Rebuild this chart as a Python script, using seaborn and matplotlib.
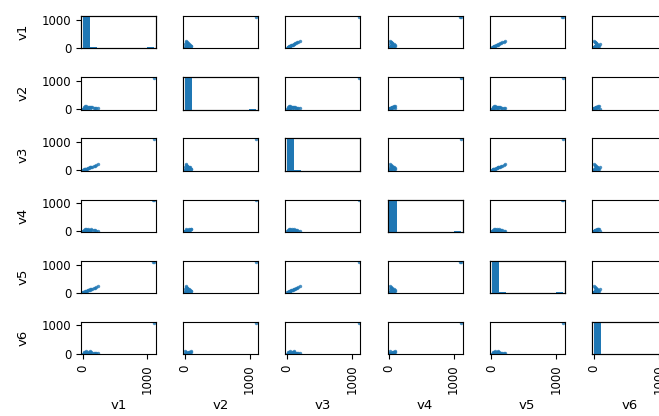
import numpy as np
import pandas as pd
import matplotlib
matplotlib.use("Agg")
import matplotlib.pyplot as plt
import seaborn as sns

variables = ["v1", "v2", "v3", "v4", "v5", "v6"]

v1 = [3, 10, 20, 35, 50, 65, 80, 95, 110, 130, 150, 170, 190, 210, 240, 40, 60, 25, 90, 120, 1110, 1100]
v2 = [2, 5, 12, 20, 30, 45, 60, 70, 80, 60, 50, 40, 30, 20, 15, 90, 100, 70, 20, 10, 1105, np.nan]
v3 = [2, 8, 16, 28, 40, 52, 65, 78, 90, 105, 125, 140, 160, 175, 200, 35, 50, 20, 75, 100, 1100, np.nan]
v4 = [2, 6, 10, 15, 22, 30, 40, 55, 60, 70, 50, 40, 30, 20, 10, 80, 95, 60, 95, 5, 1112, 1104]
v5 = [3, 9, 18, 32, 45, 60, 72, 85, 100, 115, 135, 155, 170, 190, 215, 40, 55, 25, 80, 110, 1108, 1100]
v6 = [2, 4, 8, 12, 18, 25, 30, 40, 50, 45, 35, 30, 25, 15, 10, 60, 80, 50, 70, 90, 1095, np.nan]
count = [300, 200, 150, 100, 70, 50, 35, 25, 15, 10, 6, 4, 3, 2, 1, 5, 3, 5, 4, 3, 1, 30]

tick_values = [0, 1000]

df = pd.DataFrame({"v1": v1, "v2": v2, "v3": v3, "v4": v4, "v5": v5, "v6": v6, "count": count})

blue = "#1f77b4"
n = len(variables)

fig = plt.figure(figsize=(6.59, 4.16), dpi=100)
axes = fig.subplots(n, n, gridspec_kw=dict(left=0.1229, right=1.012, top=0.962, bottom=0.148,
                                           wspace=0.364, hspace=0.886))

bounds = {}
for v in variables:
    lo, hi = np.nanmin(df[v]), np.nanmax(df[v])
    pad = (hi - lo) * 0.025
    bounds[v] = (lo - pad, hi + pad)

for i, yv in enumerate(variables):
    for j, xv in enumerate(variables):
        ax = axes[i, j]
        if i == j:
            sub = df[[xv, "count"]].dropna()
            tw = ax.twinx()
            sns.histplot(data=sub, x=xv, weights="count", bins=10, ax=tw,
                         color=blue, alpha=1, linewidth=0)
            tw.set_xlim(bounds[xv])
            tw.set_ylim(0, tw.get_ylim()[1] / 1.05)
            tw.set_yticks([])
            tw.set_ylabel("")
            tw.set_xlabel("")
            ax.set_xlim(bounds[xv])
            ax.set_ylim(bounds[yv])
        else:
            sub = df[[xv, yv]].dropna()
            sns.scatterplot(data=sub, x=xv, y=yv, ax=ax, s=6, color=blue,
                            alpha=0.8, linewidth=0)
            ax.set_xlim(bounds[xv])
            ax.set_ylim(bounds[yv])
        ax.set_xlabel("")
        ax.set_ylabel("")
        if j == 0:
            ax.set_yticks(tick_values)
            ax.set_yticklabels([str(t) for t in tick_values], fontsize=8.5)
            ax.set_ylabel(yv, fontsize=9.5, labelpad=9)
        else:
            ax.yaxis.set_visible(False)
        if i == n - 1:
            ax.set_xticks(tick_values)
            ax.set_xticklabels([str(t) for t in tick_values], fontsize=8.5, rotation=90)
            ax.set_xlabel(xv, fontsize=9.5, labelpad=4)
        else:
            ax.xaxis.set_visible(False)

fig.savefig("out.png", dpi=100)
